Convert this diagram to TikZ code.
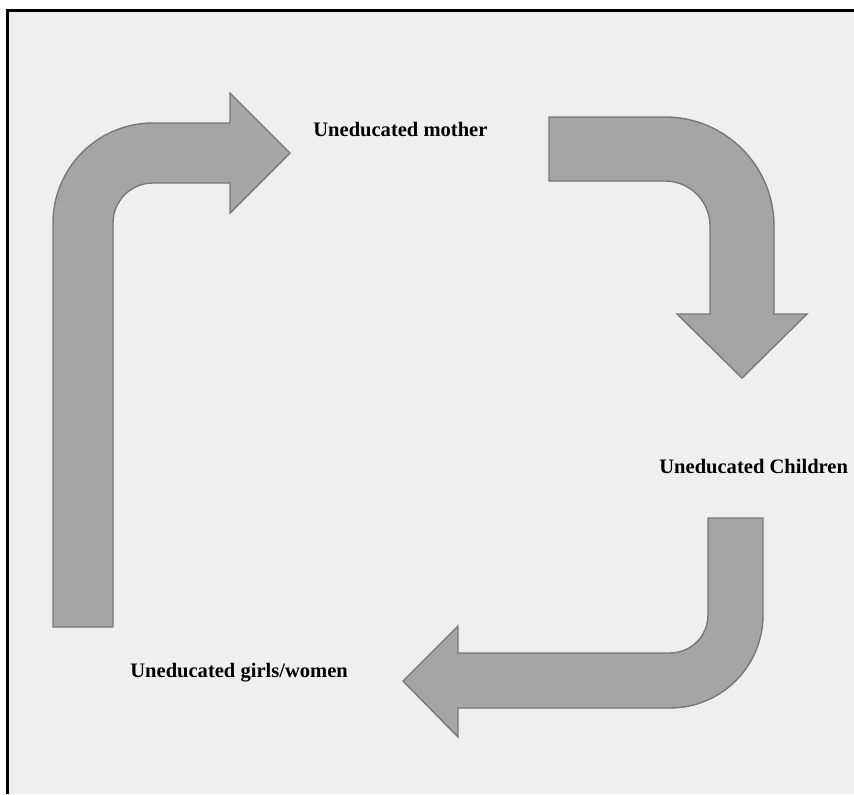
\documentclass[tikz,border=0pt]{standalone}
\usepackage{fontspec}
\setmainfont{Liberation Serif}
\usepackage{tikz}

\definecolor{panelgray}{HTML}{EFEFEF}
\definecolor{arrowfill}{HTML}{A5A5A5}
\definecolor{arrowline}{HTML}{787878}

\begin{document}
\begin{tikzpicture}[x=0.02cm,y=-0.02cm,
    bentarrow/.style={fill=arrowfill,draw=arrowline,line width=0.8pt,line join=miter},
    label/.style={anchor=base west,inner sep=0pt,font=\fontsize{11.7}{14}\selectfont\bfseries}]
    \useasboundingbox (0,0) rectangle (854,794);

    % Background and frame
    \fill[panelgray] (7.5,10.5) rectangle (854,794);
    \draw[line width=1.7pt] (7.5,794) -- (7.5,10.5) -- (854,10.5);

    % Arrow up and right
    \draw[bentarrow] (53,627) -- (53,223) arc[start angle=180,end angle=270,radius=100]
        -- (230,123) -- (230,93) -- (290,153) -- (230,213) -- (230,183) -- (153,183)
        arc[start angle=270,end angle=180,radius=40] -- (113,627) -- cycle;

    % Arrow right and down
    \draw[bentarrow] (549,117) -- (665,117) arc[start angle=270,end angle=360,radius=109]
        -- (774,314) -- (807,314) -- (742,378) -- (677,314) -- (710,314) -- (710,226)
        arc[start angle=0,end angle=-90,radius=45] -- (549,181) -- cycle;

    % Arrow down and left
    \draw[bentarrow] (708,518) -- (763,518) -- (763,615) arc[start angle=0,end angle=90,radius=93]
        -- (458,708) -- (458,737) -- (403,681) -- (458,626) -- (458,653) -- (670,653)
        arc[start angle=90,end angle=0,radius=38] -- cycle;

    % Labels
    \node[label] (mother) at (313,136) {Uneducated mother};
    \node[label] (children) at (659,473) {Uneducated Children};
    \node[label] (girls) at (130,677) {Uneducated girls/women};
\end{tikzpicture}
\end{document}
